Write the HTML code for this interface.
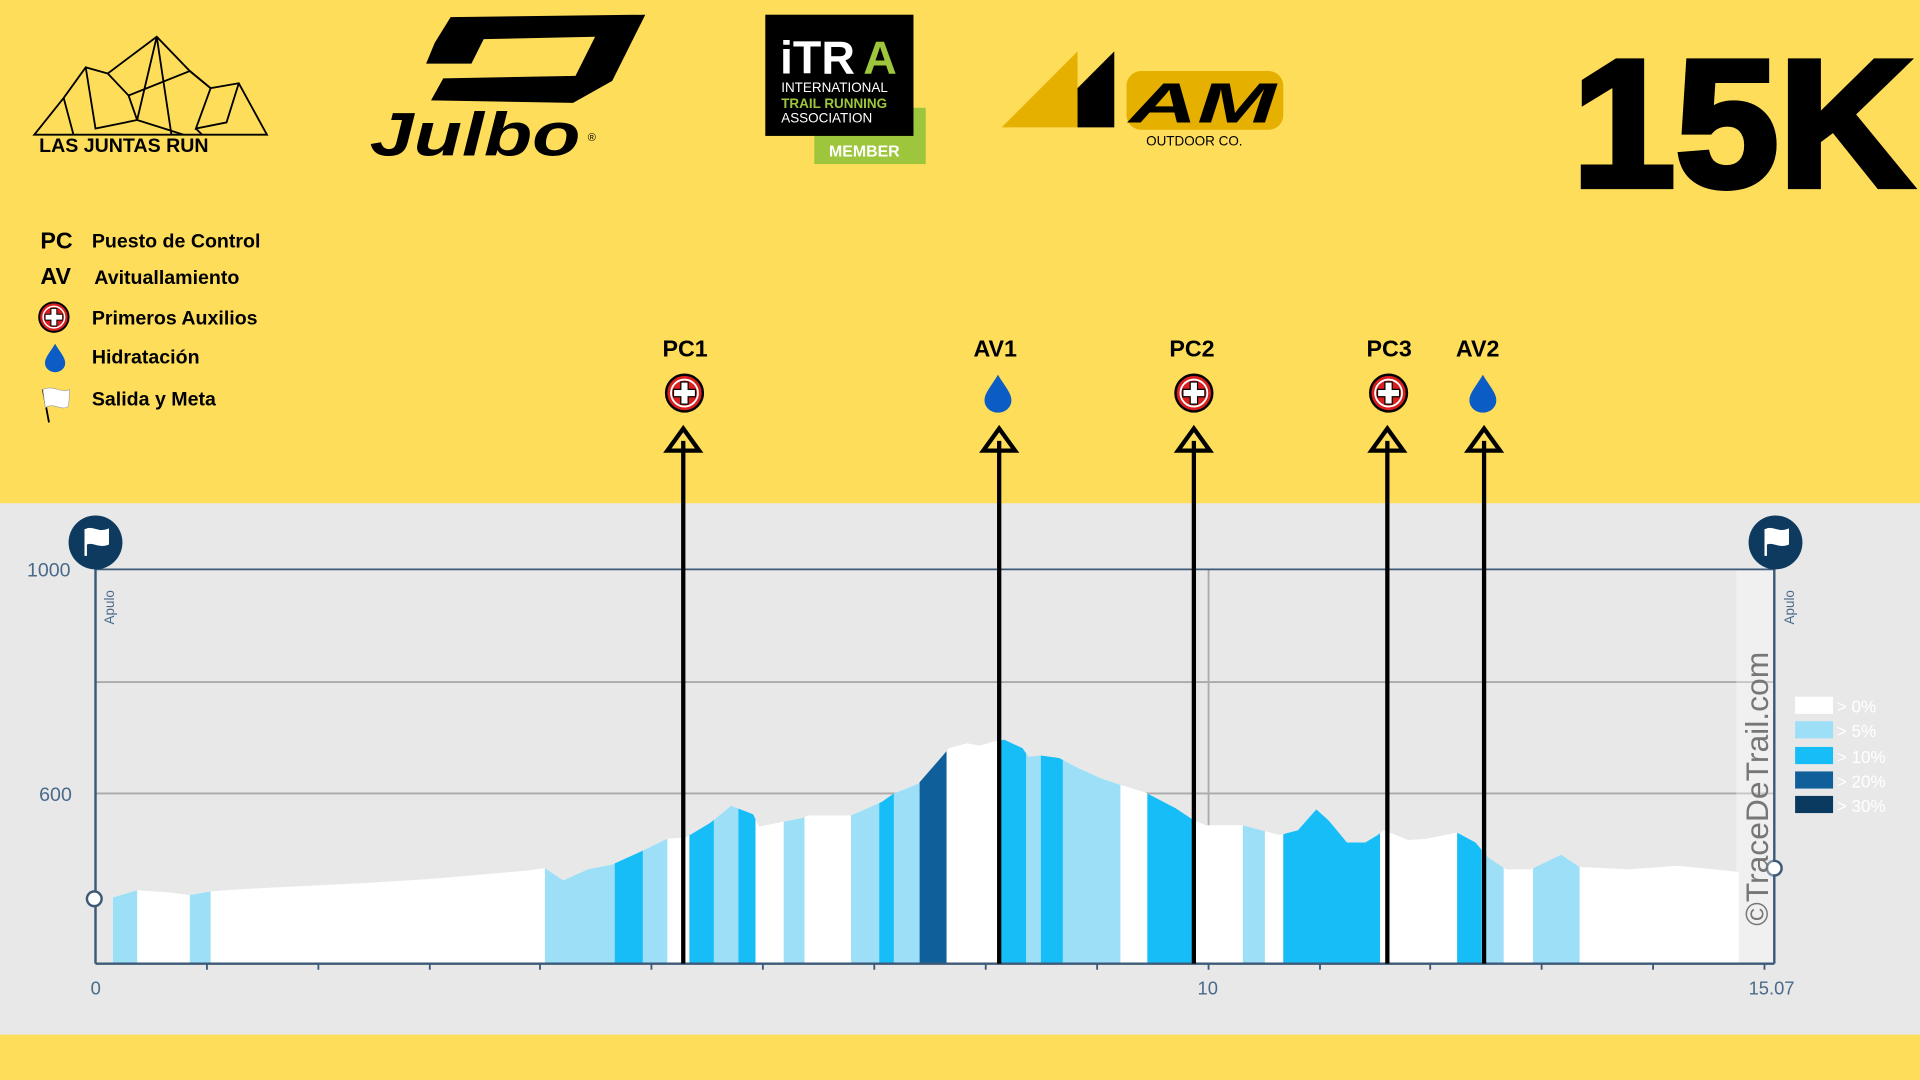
<!DOCTYPE html>
<html><head><meta charset="utf-8"><style>
html,body{margin:0;padding:0;background:#fedd5b;overflow:hidden}
svg{display:block}
text{font-family:"Liberation Sans",sans-serif}
</style></head><body>
<svg width="1920" height="1080" viewBox="0 0 1568 882" xmlns="http://www.w3.org/2000/svg">
<rect width="1568" height="882" fill="#fedd5b"/>
<g fill="none" stroke="#000" stroke-width="1.5">
<polygon points="28,110 52,80 70,55 88,60 128,30 155,58 172,72 195,68 218,110"/>
<path d="M52,80 L60,110 M70,55 L78,105 L112,98 L128,30 M88,60 L105,78 L112,98 L150,110 M128,30 L140,110 M105,78 L155,58 L172,72 L160,105 L185,100 L195,68 M160,105 L165,110"/>
</g>
<text x="32" y="124" font-size="16" font-weight="bold" fill="#000">LAS JUNTAS RUN</text>
<path d="M355,35 L368,14 L527,12 L500,66 L468,84 L352,82 L362,64 L470,62 L486,30 L395,32 L385,52 L348,52 Z" fill="#000"/>
<text x="302" y="127" font-size="50" font-style="italic" font-weight="bold" fill="#000" textLength="172" lengthAdjust="spacingAndGlyphs">Julbo</text>
<text x="480" y="115" font-size="9" fill="#000">®</text>
<rect x="665" y="88" width="91" height="46" fill="#9dc63c"/>
<rect x="625" y="12" width="121" height="99" fill="#000"/>
<text x="637" y="60" font-size="38" font-weight="bold" fill="#fff">iTR</text><text x="705" y="60" font-size="38" font-weight="bold" fill="#9dc63c">A</text>
<text x="638" y="75" font-size="11" fill="#fff">INTERNATIONAL</text>
<text x="638" y="88" font-size="11" font-weight="bold" fill="#9dc63c">TRAIL RUNNING</text>
<text x="638" y="100" font-size="11" fill="#fff">ASSOCIATION</text>
<text x="677" y="128" font-size="13" font-weight="bold" fill="#fff">MEMBER</text>
<polygon points="818,104 880,42 880,104" fill="#e5b000"/>
<polygon points="880,72 910,42 910,104 880,104" fill="#000"/>
<rect x="920" y="58" width="128" height="48" rx="12" fill="#e5b000"/>
<text x="922" y="100" font-size="46" font-style="italic" font-weight="bold" fill="#000" textLength="120" lengthAdjust="spacingAndGlyphs">AM</text>
<text x="936" y="119" font-size="11" fill="#000">OUTDOOR CO.</text>
<text x="1284" y="152" font-size="148" font-weight="bold" fill="#000" stroke="#000" stroke-width="5" textLength="278" lengthAdjust="spacingAndGlyphs">15K</text>
<g font-size="16" font-weight="bold" fill="#000">
<text x="33" y="203" font-size="19">PC</text><text x="75" y="202">Puesto de Control</text>
<text x="33" y="232" font-size="19">AV</text><text x="77" y="232">Avituallamiento</text>
<text x="75" y="265">Primeros Auxilios</text>
<text x="75" y="297">Hidratación</text>
<text x="75" y="331">Salida y Meta</text>
</g>
<defs>
<g id="aid"><circle r="15" fill="#d81e1e" stroke="#000" stroke-width="2"/><circle r="11" fill="none" stroke="#fff" stroke-width="1.5"/><path d="M-3,-9h6v6h6v6h-6v6h-6v-6h-6v-6h6z" fill="#fff" stroke="#000" stroke-width="1"/></g>
<path id="drop" d="M0,-15 C6,-5 11,0 11,6 A11,10 0 0 1 -11,6 C-11,0 -6,-5 0,-15Z" fill="#0b5cc4"/>
</defs>
<use href="#aid" transform="translate(44 259) scale(0.8)"/>
<use href="#drop" transform="translate(45 292) scale(0.75)"/>
<path d="M35,318 L40,345" stroke="#000" stroke-width="1.5"/><path d="M35,318 C45,314 50,322 57,318 L56,332 C49,336 44,328 37,333Z" fill="#fff" stroke="#999" stroke-width="0.5"/>
<rect x="0" y="411" width="1568" height="434" fill="#e8e8e8"/>
<g stroke="#aaa" stroke-width="1.5"><line x1="78" y1="557" x2="1449" y2="557"/><line x1="78" y1="648" x2="1449" y2="648"/><line x1="987" y1="465" x2="987" y2="787"/></g>
<line x1="78" y1="465" x2="1449" y2="465" stroke="#3c5a78" stroke-width="1.5"/>
<defs><clipPath id="prof"><path d="M92,787 L92,733 L112,727 L140,729 L155,731 L172,728 L200,726 L300,721 L350,718 L430,711 L445,709 L460,719 L480,710 L500,706 L520,697 L545,685 L560,684 L580,672 L597,658 L615,665 L620,675 L655,668 L660,666 L695,666 L720,655 L730,648 L750,640 L770,617 L775,611 L790,607 L800,609 L810,606 L820,604 L835,611 L840,618 L850,617 L865,619 L880,627 L900,636 L915,641 L935,647 L960,660 L975,670 L985,674 L1015,674 L1030,678 L1045,682 L1060,678 L1075,661 L1085,670 L1100,688 L1115,688 L1125,682 L1130,678 L1150,686 L1165,685 L1190,680 L1205,688 L1215,700 L1230,710 L1250,710 L1275,698 L1290,708 L1330,710 L1370,707 L1420,712 L1420,787 Z"/></clipPath></defs>
<g clip-path="url(#prof)">
<rect x="0" y="590" width="1568" height="200" fill="#fff"/>
<g fill="#9ddff7">
<rect x="92" y="590" width="20" height="200"/><rect x="155" y="590" width="17" height="200"/><rect x="445" y="590" width="57" height="200"/><rect x="525" y="590" width="20" height="200"/><rect x="583" y="590" width="20" height="200"/><rect x="640" y="590" width="17" height="200"/><rect x="695" y="590" width="23" height="200"/><rect x="730" y="590" width="21" height="200"/><rect x="838" y="590" width="12" height="200"/><rect x="868" y="590" width="47" height="200"/><rect x="1015" y="590" width="18" height="200"/><rect x="1210" y="590" width="18" height="200"/><rect x="1252" y="590" width="38" height="200"/>
</g>
<g fill="#17bdf7">
<rect x="502" y="590" width="23" height="200"/><rect x="563" y="590" width="20" height="200"/><rect x="603" y="590" width="14" height="200"/><rect x="718" y="590" width="12" height="200"/><rect x="817" y="590" width="21" height="200"/><rect x="850" y="590" width="18" height="200"/><rect x="937" y="590" width="38" height="200"/><rect x="1048" y="590" width="79" height="200"/><rect x="1190" y="590" width="20" height="200"/>
</g>
<rect x="751" y="590" width="22" height="200" fill="#0e5f9a"/>
</g>
<g stroke="#3c5a78" stroke-width="2"><line x1="78" y1="445" x2="78" y2="787"/><line x1="1449" y1="445" x2="1449" y2="787"/><line x1="78" y1="787" x2="1449" y2="787"/></g>
<g stroke="#3c5a78" stroke-width="1.5"><path d="M169,787v5M260,787v5M351,787v5M441,787v5M532,787v5M623,787v5M714,787v5M805,787v5M896,787v5M987,787v5M1078,787v5M1168,787v5M1259,787v5M1350,787v5M1441,787v5"/></g>
<circle cx="77" cy="734" r="6" fill="#fff" stroke="#3c5a78" stroke-width="2"/>
<circle cx="1449" cy="709" r="6" fill="#fff" stroke="#3c5a78" stroke-width="2"/>
<g font-size="16" fill="#4a6a8a"><text x="22" y="471">1000</text><text x="32" y="654">600</text><text x="74" y="812" font-size="15">0</text><text x="978" y="812" font-size="15">10</text><text x="1428" y="812" font-size="15">15.07</text></g>
<g font-size="11" fill="#4a6a8a"><text transform="translate(93 510) rotate(-90)">Apulo</text><text transform="translate(1465 510) rotate(-90)">Apulo</text></g>
<rect x="1418" y="466" width="30" height="320" fill="#fff" opacity="0.35"/>
<text transform="translate(1444 756) rotate(-90)" font-size="26" fill="#777">©TraceDeTrail.com</text>
<g font-size="14" fill="#fff">
<rect x="1466" y="569" width="31" height="14" fill="#fff"/><text x="1500" y="582">&gt; 0%</text>
<rect x="1466" y="589" width="31" height="14" fill="#9ddff7"/><text x="1500" y="602">&gt; 5%</text>
<rect x="1466" y="610" width="31" height="14" fill="#17bdf7"/><text x="1500" y="623">&gt; 10%</text>
<rect x="1466" y="630" width="31" height="14" fill="#0e5f9a"/><text x="1500" y="643">&gt; 20%</text>
<rect x="1466" y="650" width="31" height="14" fill="#0a3a60"/><text x="1500" y="663">&gt; 30%</text>
</g>
<g><circle cx="78" cy="443" r="22" fill="#0d3a5e"/><path d="M70,432v22M70,433c6,-3 10,3 18,0v11c-8,3 -12,-3 -18,0z" fill="#fff" stroke="#fff" stroke-width="2"/></g>
<g><circle cx="1450" cy="443" r="22" fill="#0d3a5e"/><path d="M1442,432v22M1442,433c6,-3 10,3 18,0v11c-8,3 -12,-3 -18,0z" fill="#fff" stroke="#fff" stroke-width="2"/></g>
<g stroke="#000" stroke-width="3.5" fill="none">
<path d="M558,787V360M816,787V360M975,787V360M1133,787V360M1212,787V360"/>
<path d="M545,368L558,350L571,368Z M803,368L816,350L829,368Z M962,368L975,350L988,368Z M1120,368L1133,350L1146,368Z M1199,368L1212,350L1225,368Z"/>
</g>
<g font-size="19" font-weight="bold" fill="#000"><text x="541" y="291">PC1</text><text x="795" y="291">AV1</text><text x="955" y="291">PC2</text><text x="1116" y="291">PC3</text><text x="1189" y="291">AV2</text></g>
<use href="#aid" transform="translate(559 321)"/>
<use href="#drop" transform="translate(815 321)"/>
<use href="#aid" transform="translate(975 321)"/>
<use href="#aid" transform="translate(1134 321)"/>
<use href="#drop" transform="translate(1211 321)"/>
<rect x="0" y="845" width="1568" height="37" fill="#fedd5b"/>
</svg>
</body></html>
